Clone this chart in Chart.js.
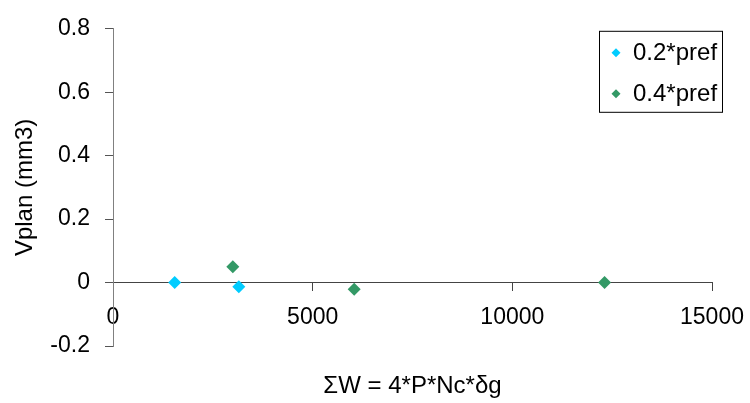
<!DOCTYPE html>
<html>
<head>
<meta charset="utf-8">
<script src="https://cdn.jsdelivr.net/npm/chart.js@4.4.0/dist/chart.umd.min.js"></script>
<style>
    body { margin: 0; background: #fff; }
    #wrap { width: 750px; height: 403px; position: relative; }
</style>
</head>
<body>
<div id="wrap"><canvas id="chart"></canvas></div>
<script>
/* Vplan vs sum W scatter */

const seriesLabels = ['0.2*pref', '0.4*pref'];
const seriesColors = ['#00CCFF', '#339966'];

const pref02X = [1545, 3150];
const pref02Y = [0, -0.013];
const pref04X = [3000, 6040, 12310];
const pref04Y = [0.05, -0.021, 0];

const xTicks = [0, 5000, 10000, 15000];
const yTicks = [-0.2, 0, 0.2, 0.4, 0.6, 0.8];
const yTickLabels = ['-0.2', '0', '0.2', '0.4', '0.6', '0.8'];

const xTitle = 'ΣW = 4*P*Nc*δg';
const yTitle = 'Vplan (mm3)';

const FONT = "'Liberation Sans', Arial, sans-serif";

function toPoints(xs, ys) {
    return xs.map((x, i) => ({ x: x, y: ys[i] }));
}

// legend box sits inside the plot, top right, like the original
const boxLegend = {
    id: 'boxLegend',
    afterDraw(chart) {
        const ctx = chart.ctx;
        const area = chart.chartArea;
        const w = 123, h = 81;
        const left = area.right + 10 - w;
        const top = area.top + 2;
        const r = 4.5;
        ctx.save();
        ctx.fillStyle = '#fff';
        ctx.fillRect(left, top, w, h);
        ctx.strokeStyle = '#000';
        ctx.lineWidth = 1;
        ctx.strokeRect(left + 0.5, top + 0.5, w, h);
        ctx.font = '24px ' + FONT;
        ctx.textBaseline = 'middle';
        ctx.textAlign = 'left';
        chart.data.datasets.forEach((ds, i) => {
            const cy = top + 22 + i * 41;
            const cx = left + 17;
            ctx.fillStyle = ds.backgroundColor;
            ctx.beginPath();
            ctx.moveTo(cx - r, cy);
            ctx.lineTo(cx, cy - r);
            ctx.lineTo(cx + r, cy);
            ctx.lineTo(cx, cy + r);
            ctx.closePath();
            ctx.fill();
            ctx.fillStyle = '#000';
            ctx.fillText(ds.label, left + 34, cy + 1);
        });
        ctx.restore();
    }
};

// x title goes below the whole plot, not under the crossing axis
const bottomTitle = {
    id: 'bottomTitle',
    afterDraw(chart) {
        const ctx = chart.ctx;
        const area = chart.chartArea;
        ctx.save();
        ctx.font = '24px ' + FONT;
        ctx.fillStyle = '#000';
        ctx.textAlign = 'center';
        ctx.textBaseline = 'middle';
        ctx.fillText(xTitle, (area.left + area.right) / 2, area.bottom + 40);
        ctx.restore();
    }
};

const ctx = document.getElementById('chart').getContext('2d');

new Chart(ctx, {
    type: 'scatter',
    data: {
        datasets: [
            {
                label: seriesLabels[0],
                data: toPoints(pref02X, pref02Y),
                backgroundColor: seriesColors[0],
                borderWidth: 0,
                pointStyle: 'rectRot',
                pointRadius: 6.5,
                pointHoverRadius: 6.5
            },
            {
                label: seriesLabels[1],
                data: toPoints(pref04X, pref04Y),
                backgroundColor: seriesColors[1],
                borderWidth: 0,
                pointStyle: 'rectRot',
                pointRadius: 6.5,
                pointHoverRadius: 6.5
            }
        ]
    },
    options: {
        responsive: true,
        maintainAspectRatio: false,
        animation: false,
        layout: {
            padding: { left: 0, top: 24, right: 38, bottom: 57 }
        },
        plugins: {
            legend: { display: false },
            tooltip: { enabled: false }
        },
        scales: {
            x: {
                type: 'linear',
                position: { y: 0 },
                min: xTicks[0],
                max: xTicks[xTicks.length - 1],
                afterBuildTicks: (scale) => {
                    scale.ticks = xTicks.map(v => ({ value: v }));
                },
                afterFit: (scale) => {
                    scale.paddingLeft = 0;
                    scale.paddingRight = 0;
                },
                ticks: {
                    color: '#000',
                    font: { family: FONT, size: 23 },
                    padding: 13,
                    maxRotation: 0,
                    callback: (v) => String(v)
                },
                grid: {
                    drawOnChartArea: false,
                    drawTicks: true,
                    tickLength: 8,
                    color: '#444'
                },
                border: { color: '#444', width: 1 }
            },
            y: {
                type: 'linear',
                position: 'left',
                min: yTicks[0],
                max: yTicks[yTicks.length - 1],
                afterBuildTicks: (scale) => {
                    scale.ticks = yTicks.map(v => ({ value: v }));
                },
                afterFit: (scale) => {
                    scale.width = 113;
                },
                ticks: {
                    color: '#000',
                    font: { family: FONT, size: 23 },
                    padding: 15,
                    callback: (v) => {
                        const i = yTicks.findIndex(t => Math.abs(t - v) < 1e-9);
                        return i >= 0 ? yTickLabels[i] : '';
                    }
                },
                grid: {
                    drawOnChartArea: false,
                    drawTicks: true,
                    tickLength: 8,
                    color: '#555'
                },
                border: { color: '#808080', width: 1 },
                title: {
                    display: true,
                    text: yTitle,
                    color: '#000',
                    font: { family: FONT, size: 24 },
                    padding: { top: 11, bottom: 0 }
                }
            }
        }
    },
    plugins: [boxLegend, bottomTitle]
});
</script>
</body>
</html>
